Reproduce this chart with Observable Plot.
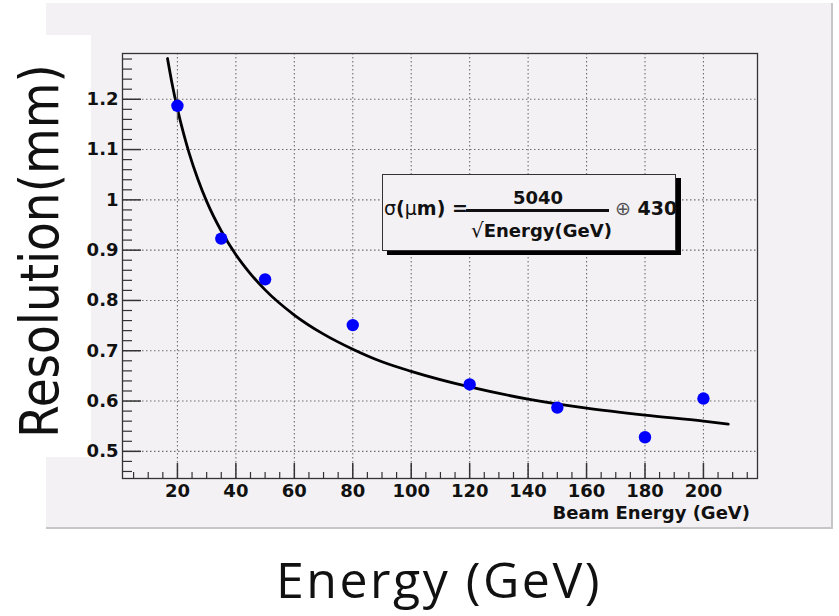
<!DOCTYPE html>
<html><head><meta charset="utf-8">
<script src="https://cdn.jsdelivr.net/npm/d3@7"></script>
<script src="https://cdn.jsdelivr.net/npm/@observablehq/plot@0.6"></script>
<style>
body{margin:0;background:#fff;}
#wrap{position:relative;width:839px;height:616px;overflow:hidden;background:#fff;}
#panel{position:absolute;left:46px;top:3px;width:785px;height:524px;background:#f4f1f5;border-right:2px solid #c6c6c6;border-bottom:2px solid #c6c6c6;}
#white{position:absolute;left:0;top:35px;width:91px;height:422px;background:#fff;}
#chart{position:absolute;left:0;top:0;}
#overlay{position:absolute;left:0;top:0;pointer-events:none;}
#legend{position:absolute;left:382px;top:174px;width:292px;height:75px;background:#f4f1f5;border:1px solid #333;box-shadow:5px 4px 0 #000;font-family:"DejaVu Sans",sans-serif;font-weight:bold;font-size:18px;color:#111;}
#legend span{position:absolute;white-space:nowrap;line-height:1;transform:translate(0,-50%);}
#legend .c{transform:translate(-50%,-50%);}
#fracline{position:absolute;left:83px;top:34px;width:143px;height:3px;background:#111;}
#beam{position:absolute;right:89px;top:502px;font-family:"DejaVu Sans",sans-serif;font-weight:bold;font-size:18px;color:#111;white-space:nowrap;}
</style></head>
<body>
<div id="wrap">
  <div id="panel"></div>
  <div id="white"></div>
  <div id="chart"></div>
  <div id="legend">
    <span style="left:1px;top:33px;font-size:19px;"><span style="position:static;font-weight:normal">σ</span>(<span style="position:static;font-weight:normal">μ</span>m) =</span>
    <span class="c" style="left:155px;top:23px;">5040</span>
    <div id="fracline"></div>
    <span style="left:88px;top:55px;"><span style="position:static;font-weight:normal;font-size:20px">√</span>Energy(GeV)</span>
    <span style="left:232px;top:33px;font-size:19px;"><span style="position:static;font-weight:normal;color:#555">⊕</span> 430</span>
  </div>
  <div id="beam">Beam Energy (GeV)</div>
  <svg id="overlay" width="839" height="616">
    <text transform="translate(58,251) rotate(-90) scale(1,1.15)" text-anchor="middle" font-family="DejaVu Sans, sans-serif" font-size="47" fill="#111">Resolution(mm)</text>
    <text x="439" y="598" text-anchor="middle" font-family="Open Sans, sans-serif" font-size="50" letter-spacing="2.5" fill="#111">Energy (GeV)</text>
  </svg>
</div>
<script>
// Measured points
const energy = [20, 35, 50, 80, 120, 150, 180, 200];
const resolution = [1.187, 0.923, 0.842, 0.751, 0.633, 0.587, 0.528, 0.605];
const errorBar = [0.03, 0, 0, 0, 0, 0, 0, 0];

// Fit curve
const fitEnergy = [16.6, 18, 20, 22, 24, 27, 30, 35, 40, 45, 50, 60, 70, 80, 90, 100, 120, 140, 160, 180, 200, 208.5];
const fitResolution = [1.281, 1.236, 1.181, 1.134, 1.093, 1.041, 0.997, 0.938, 0.891, 0.853, 0.821, 0.771, 0.733, 0.703, 0.678, 0.659, 0.628, 0.604, 0.586, 0.572, 0.560, 0.554];

// Ticks
const xTicks = [20, 40, 60, 80, 100, 120, 140, 160, 180, 200];
const xTickLabels = ["20", "40", "60", "80", "100", "120", "140", "160", "180", "200"];
const yTicks = [0.5, 0.6, 0.7, 0.8, 0.9, 1.0, 1.1, 1.2];
const yTickLabels = ["0.5", "0.6", "0.7", "0.8", "0.9", "1", "1.1", "1.2"];

const xMinor = d3.range(5, 218, 5).filter(v => v % 20 !== 0);
const yMinor = d3.range(23, 65).map(k => k / 50).filter(v => Math.abs(v * 10 - Math.round(v * 10)) > 1e-6);

const points = energy.map((e, i) => ({e, r: resolution[i], err: errorBar[i]}));
const fit = fitEnergy.map((e, i) => ({e, r: fitResolution[i]}));

const W = 839, H = 616, mL = 122, mR = 82, mT = 53, mB = 138;
const fw = W - mL - mR, fh = H - mT - mB;
const tickFont = {fontSize: 18, fontWeight: "bold", fontFamily: "DejaVu Sans, sans-serif", fill: "#111"};

const chart = Plot.plot({
  width: W, height: H,
  marginLeft: mL, marginRight: mR, marginTop: mT, marginBottom: mB,
  style: {background: "transparent", overflow: "visible"},
  x: {domain: [1.2, 218.5]},
  y: {domain: [0.446, 1.291]},
  marks: [
    Plot.gridX(xTicks, {stroke: "#6e6e6e", strokeOpacity: 1, strokeWidth: 1.1, strokeDasharray: "1.5,2.5"}),
    Plot.gridY(yTicks, {stroke: "#6e6e6e", strokeOpacity: 1, strokeWidth: 1.1, strokeDasharray: "1.5,2.5"}),
    Plot.tickX(xMinor, {stroke: "#333", strokeWidth: 1.2, insetTop: fh - 6}),
    Plot.tickX(xTicks, {stroke: "#333", strokeWidth: 1.5, insetTop: fh - 15}),
    Plot.tickY(yMinor, {stroke: "#333", strokeWidth: 1.2, insetRight: fw - 10}),
    Plot.tickY(yTicks, {stroke: "#333", strokeWidth: 1.5, insetRight: fw - 19}),
    Plot.line(fit, {x: "e", y: "r", stroke: "#000", strokeWidth: 2.8, curve: "monotone-x"}),
    Plot.ruleX(points.filter(d => d.err > 0), {x: "e", y1: d => d.r - d.err, y2: d => d.r + d.err, stroke: "#555", strokeWidth: 1.2}),
    Plot.dot(points, {x: "e", y: "r", r: 6.2, fill: "#0000ff", stroke: null}),
    Plot.frame({stroke: "#333", strokeWidth: 1.3}),
    Plot.axisX(xTicks, {tickSize: 0, tickPadding: 6, label: null, tickFormat: d => xTickLabels[xTicks.indexOf(d)], ...tickFont}),
    Plot.axisY(yTicks, {tickSize: 0, tickPadding: 4, label: null, tickFormat: d => yTickLabels[yTicks.indexOf(d)], ...tickFont})
  ]
});
document.getElementById("chart").appendChild(chart);
</script>
</body></html>
